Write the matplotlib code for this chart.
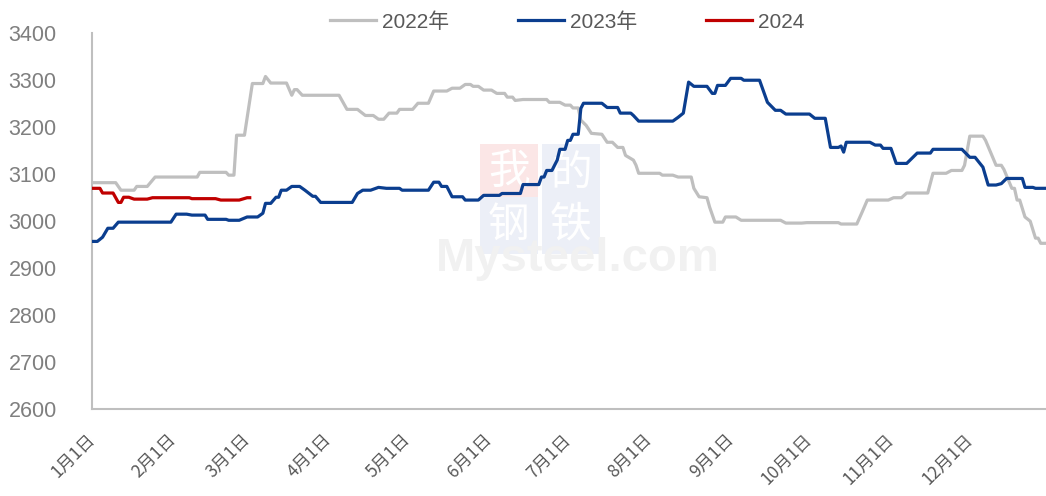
import numpy as np
import matplotlib
matplotlib.use("Agg")
import matplotlib.pyplot as plt

plt.rcParams['font.family'] = ['Liberation Sans', 'Noto Sans CJK SC', 'DejaVu Sans']

# 天数(1月1日=0) と 価格
days_2022 = [0, 9, 11, 16, 17, 21, 24, 40, 41, 51, 52, 54, 55, 58, 61, 65, 66, 68, 74, 76, 77, 78,
             80, 94, 97, 101, 104, 107, 109, 111, 113, 116, 117, 122, 124, 128, 130, 135, 137, 140,
             142, 144, 145, 147, 149, 152, 154, 157, 158, 160, 161, 164, 173, 174, 178, 180, 182,
             183, 185, 186, 188, 190, 194, 196, 198, 200, 202, 203, 206, 207, 208, 216, 217, 221,
             223, 228, 229, 231, 234, 235, 237, 240, 241, 245, 247, 262, 264, 270, 272, 284, 285,
             291, 293, 295, 303, 305, 308, 310, 318, 320, 325, 327, 331, 332, 334, 339, 340, 344,
             346, 347, 350, 351, 352, 353, 355, 357, 359, 360, 361, 363]
price_2022 = [3082, 3082, 3066, 3066, 3074, 3074, 3094, 3094, 3104, 3104, 3098, 3098, 3183, 3183,
              3293, 3293, 3308, 3294, 3294, 3268, 3280, 3280, 3268, 3268, 3238, 3238, 3225, 3225,
              3217, 3217, 3230, 3230, 3238, 3238, 3251, 3251, 3277, 3277, 3283, 3283, 3291, 3291,
              3287, 3287, 3279, 3279, 3272, 3272, 3264, 3264, 3257, 3259, 3259, 3253, 3253, 3247,
              3247, 3241, 3241, 3215, 3204, 3187, 3185, 3168, 3168, 3157, 3157, 3140, 3130, 3119,
              3102, 3102, 3098, 3098, 3094, 3094, 3070, 3052, 3050, 3030, 2998, 2998, 3009, 3009,
              3002, 3002, 2996, 2996, 2997, 2997, 2994, 2994, 3019, 3045, 3045, 3050, 3050, 3060,
              3060, 3102, 3102, 3108, 3108, 3119, 3181, 3181, 3172, 3119, 3119, 3110, 3070, 3070,
              3045, 3045, 3009, 3000, 2964, 2964, 2953, 2953]

days_2023 = [0, 2, 4, 6, 8, 10, 30, 32, 36, 38, 43, 44, 51, 52, 56, 59, 63, 65, 66, 68, 70, 71,
             72, 74, 76, 79, 81, 84, 85, 87, 99, 101, 103, 106, 109, 112, 117, 118, 128, 130, 132,
             133, 135, 137, 141, 142, 147, 149, 155, 156, 163, 164, 170, 171, 172, 173, 175, 177,
             178, 180, 181, 182, 183, 185, 186, 187, 194, 196, 200, 201, 205, 206, 208, 221, 223,
             225, 227, 229, 234, 236, 237, 238, 241, 243, 247, 248, 254, 257, 260, 262, 264, 273,
             275, 279, 281, 284, 285, 286, 287, 296, 298, 300, 301, 304, 306, 310, 314, 319, 320,
             331, 334, 336, 339, 341, 344, 346, 348, 354, 355, 358, 359, 363]
price_2023 = [2957, 2957, 2966, 2985, 2985, 2998, 2998, 3015, 3015, 3013, 3013, 3004, 3004, 3002,
              3002, 3009, 3009, 3017, 3038, 3038, 3051, 3051, 3066, 3066, 3074, 3074, 3066, 3053,
              3053, 3040, 3040, 3059, 3066, 3066, 3072, 3070, 3070, 3066, 3066, 3083, 3083, 3074,
              3074, 3052, 3052, 3045, 3045, 3055, 3055, 3059, 3059, 3078, 3078, 3094, 3094, 3108,
              3108, 3130, 3153, 3153, 3172, 3172, 3185, 3185, 3240, 3251, 3251, 3242, 3242, 3230,
              3230, 3225, 3213, 3213, 3221, 3230, 3296, 3287, 3287, 3272, 3272, 3289, 3289, 3304,
              3304, 3300, 3300, 3253, 3236, 3236, 3228, 3228, 3219, 3219, 3157, 3157, 3160, 3147,
              3168, 3168, 3162, 3162, 3155, 3155, 3123, 3123, 3145, 3145, 3153, 3153, 3136, 3136,
              3115, 3077, 3077, 3080, 3091, 3091, 3072, 3072, 3070, 3070]

days_2024 = [0, 3, 4, 8, 10, 11, 12, 14, 16, 21, 23, 37, 38, 47, 49, 56, 59, 60]
price_2024 = [3070, 3070, 3060, 3060, 3040, 3040, 3051, 3051, 3047, 3047, 3050, 3050, 3048, 3048,
              3045, 3045, 3050, 3050]

month_start = [0, 31, 59, 90, 120, 151, 181, 212, 243, 273, 304, 334]
month_labels = [f"{m}月1日" for m in range(1, 13)]

fig = plt.figure(figsize=(10.46, 4.96), dpi=100)
ax = fig.add_axes([0.088, 0.175, 0.912, 0.758])

# 水印
wm = dict(transform=ax.transAxes, ha='center', va='center', zorder=0,
          family=['Noto Sans CJK SC'], fontsize=30, color='white')
ax.text(0.437, 0.628, '我', bbox=dict(fc='#fbe6e6', ec='none', pad=6), **wm)
ax.text(0.502, 0.628, '的', bbox=dict(fc='#eceff7', ec='none', pad=6), **wm)
ax.text(0.437, 0.489, '钢', bbox=dict(fc='#eceff7', ec='none', pad=6), **wm)
ax.text(0.502, 0.489, '铁', bbox=dict(fc='#eceff7', ec='none', pad=6), **wm)
ax.text(0.509, 0.40, 'Mysteel.com', transform=ax.transAxes, ha='center', va='center',
        fontsize=34, fontweight='bold', color='#f1f1f1', zorder=0)

ax.plot(days_2022, price_2022, color='#bfbfbf', lw=2.3, label='2022年', zorder=2)
ax.plot(days_2023, price_2023, color='#0b3e8f', lw=2.3, label='2023年', zorder=3)
ax.plot(days_2024, price_2024, color='#c00000', lw=2.3, label='2024', zorder=4)

ax.set_xlim(0, 363)
ax.set_ylim(2600, 3400)
ax.set_yticks(range(2600, 3401, 100))
ax.set_xticks(month_start)
ax.set_xticklabels(month_labels, rotation=45, ha='right', va='center', rotation_mode='anchor',
                   family=['Noto Sans CJK SC'], fontsize=12.5, color='#595959')
ax.tick_params(axis='y', length=0, pad=60, labelsize=15.5, labelcolor='#7f7f7f')
ax.tick_params(axis='x', length=0, pad=20)
for lab in ax.get_yticklabels():
    lab.set_horizontalalignment('left')

for s in ['top', 'right']:
    ax.spines[s].set_visible(False)
for s in ['left', 'bottom']:
    ax.spines[s].set_color('#bfbfbf')
    ax.spines[s].set_linewidth(1.5)

leg = fig.legend(loc='center', bbox_to_anchor=(0.5426, 0.956), ncol=3, frameon=False,
                 handlelength=2.2, handletextpad=0.3, columnspacing=3.3,
                 prop={'family': ['Liberation Sans', 'Noto Sans CJK SC'], 'size': 15})
for t in leg.get_texts():
    t.set_color('#595959')

fig.savefig('out.png', dpi=100)
